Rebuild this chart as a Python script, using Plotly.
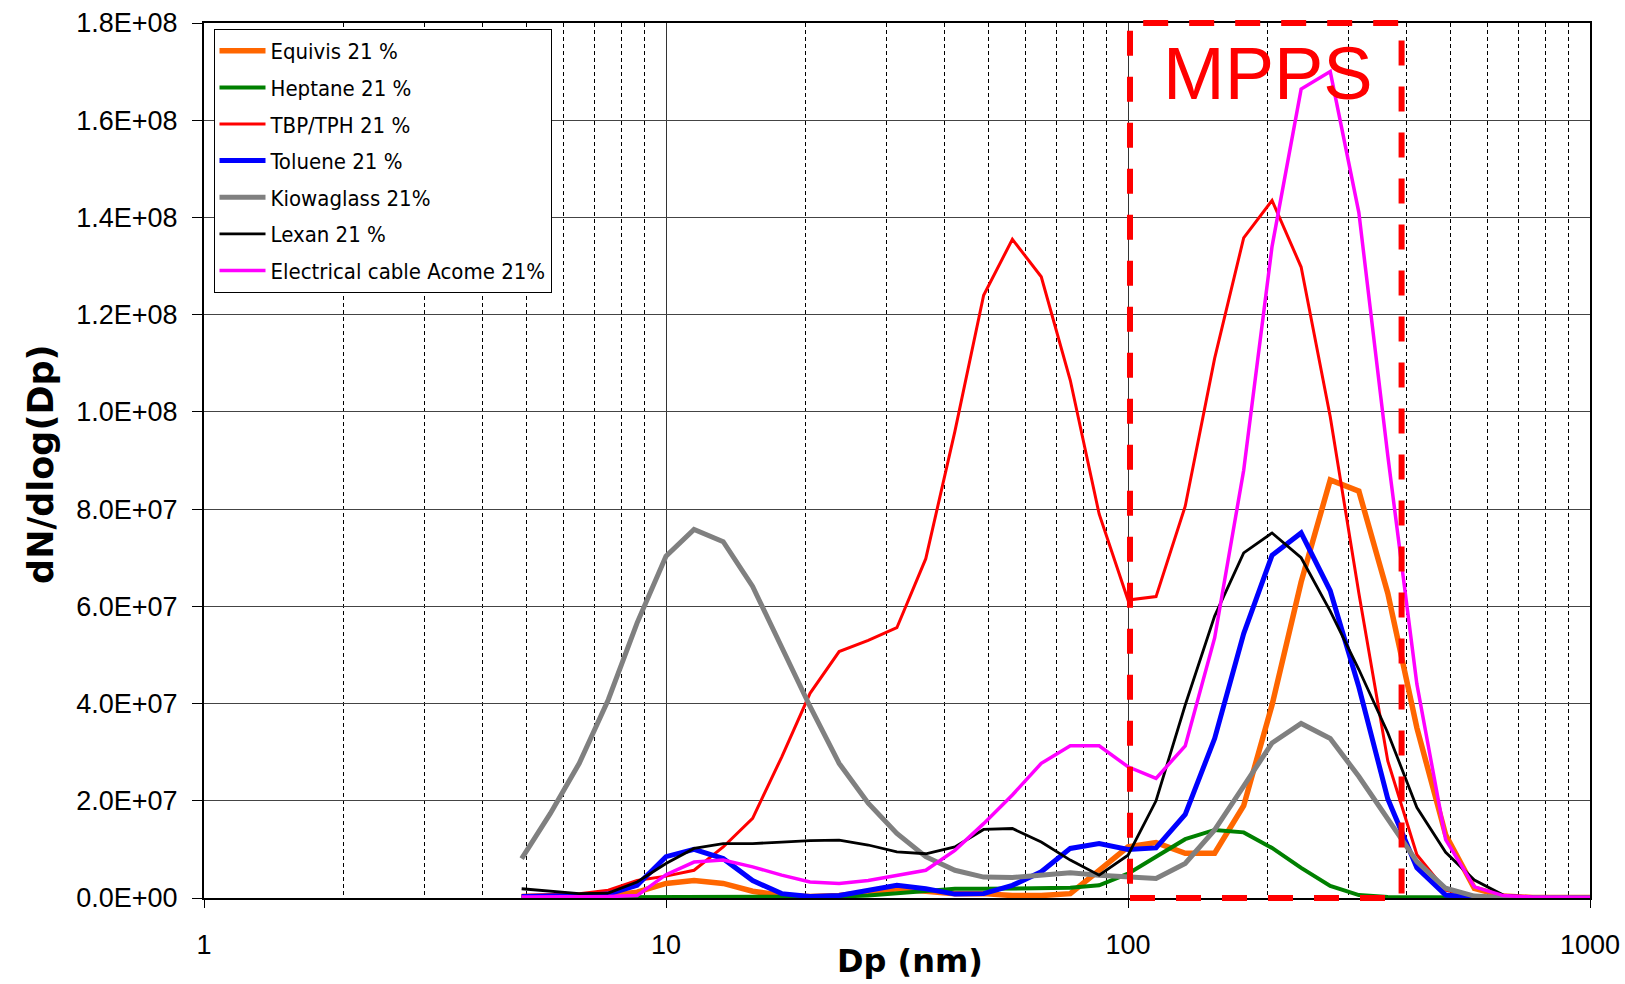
import math
import plotly.graph_objects as go

# Particle diameter channels (nm)
dp_nm = [4.87, 5.62, 6.49, 7.50, 8.66, 10.0, 11.5, 13.3, 15.4, 17.8,
         20.5, 23.7, 27.4, 31.6, 36.5, 42.2, 48.7, 56.2, 64.9, 75.0,
         86.6, 100, 115, 133, 154, 178, 205, 237, 274, 316,
         365, 422, 487, 562, 649, 750, 866, 1000]

# dN/dlog(Dp) values, in millions
equivis_M = [0.3, 0.3, 0.3, 0.5, 1.2, 3.0, 3.6, 3.0, 1.4, 0.5,
             0.3, 0.5, 1.2, 1.9, 1.4, 0.9, 0.9, 0.5, 0.5, 0.9,
             5.7, 10.5, 11.4, 9.2, 9.2, 19.0, 39.7, 65.0, 86.0, 83.7,
             62.7, 35.0, 13.0, 2.0, 0.4, 0.1, 0.1, 0.1]
heptane_M = [0.1, 0.1, 0.1, 0.1, 0.1, 0.2, 0.2, 0.2, 0.2, 0.2,
             0.3, 0.3, 0.5, 0.9, 1.4, 1.9, 1.9, 1.9, 1.9, 2.1,
             2.6, 5.0, 8.5, 12.1, 14.0, 13.5, 10.3, 6.2, 2.5, 0.6,
             0.2, 0.1, 0.1, 0.1, 0.1, 0.0, 0.0, 0.0]
tbp_M = [0.5, 0.7, 0.9, 1.6, 3.6, 4.5, 5.7, 10.5, 16.4, 29.0,
         42.1, 50.7, 53.0, 55.6, 69.8, 96.0, 124.0, 135.5, 127.8, 106.5,
         79.0, 61.3, 62.0, 80.6, 111.0, 135.8, 143.5, 129.8, 99.0, 62.7,
         28.2, 8.9, 1.6, 0.3, 0.1, 0.1, 0.05, 0.0]
toluene_M = [0.3, 0.3, 0.5, 0.8, 2.6, 8.5, 10.0, 8.1, 3.6, 0.9,
             0.3, 0.5, 1.6, 2.6, 1.9, 0.8, 0.9, 2.6, 5.4, 10.2,
             11.2, 10.0, 10.3, 17.2, 32.8, 54.4, 70.5, 75.1, 63.2, 43.4,
             20.4, 6.2, 0.6, 0.1, 0.0, 0.0, 0.0, 0.0]
kiowaglass_M = [8.1, 17.4, 27.7, 40.8, 56.6, 70.3, 75.8, 73.3, 64.1, 51.5,
                39.4, 27.7, 19.5, 13.3, 8.5, 5.7, 4.3, 4.2, 4.7, 5.2,
                4.7, 4.3, 4.0, 7.1, 14.0, 23.0, 31.9, 35.9, 32.8, 25.0,
                16.3, 7.5, 2.0, 0.4, 0.1, 0.05, 0.0, 0.0]
lexan_M = [1.9, 1.4, 0.9, 1.0, 3.3, 7.1, 10.2, 11.2, 11.2, 11.5,
           11.8, 11.9, 10.9, 9.5, 9.1, 10.5, 14.1, 14.3, 11.5, 7.8,
           4.7, 8.8, 20.0, 39.7, 58.0, 71.0, 75.1, 70.0, 59.0, 47.0,
           34.0, 18.6, 9.4, 3.7, 0.6, 0.2, 0.1, 0.0]
acome_M = [0.2, 0.2, 0.3, 0.3, 0.5, 4.8, 7.4, 7.8, 6.4, 4.7,
           3.3, 3.0, 3.6, 4.7, 5.7, 9.8, 15.3, 21.2, 27.7, 31.3,
           31.3, 27.0, 24.6, 31.3, 53.5, 88.0, 134.0, 166.4, 170.0, 141.0,
           91.0, 44.0, 12.0, 2.3, 0.5, 0.2, 0.1, 0.1]

series_names = ["Equivis 21 %", "Heptane 21 %", "TBP/TPH 21 %", "Toluene 21 %",
                "Kiowaglass 21%", "Lexan 21 %", "Electrical cable Acome 21%"]
series_values = [equivis_M, heptane_M, tbp_M, toluene_M, kiowaglass_M, lexan_M, acome_M]
series_colors = ["#FF6600", "#008000", "#FF0000", "#0000FF", "#808080", "#000000", "#FF00FF"]
series_widths = [5.5, 4, 3, 5, 5, 2.8, 3.5]

y_tickvals = [0, 2e7, 4e7, 6e7, 8e7, 1e8, 1.2e8, 1.4e8, 1.6e8, 1.8e8]
y_ticktext = ["0.0E+00", "2.0E+07", "4.0E+07", "6.0E+07", "8.0E+07",
              "1.0E+08", "1.2E+08", "1.4E+08", "1.6E+08", "1.8E+08"]
x_tickvals = [1, 10, 100, 1000]
x_ticktext = ["1", "10", "100", "1000"]

mpps_range_nm = [101, 391]

fig = go.Figure()
for i, (name, vals, color, w) in enumerate(zip(series_names, series_values, series_colors, series_widths)):
    fig.add_trace(go.Scatter(
        x=dp_nm, y=[v * 1e6 for v in vals], mode="lines", name=name,
        legendgroup="g%d" % i,
        line=dict(color=color, width=w),
    ))

x0p = math.log10(mpps_range_nm[0]) / 3.0
x1p = math.log10(mpps_range_nm[1]) / 3.0
fig.add_shape(type="rect", xref="paper", yref="paper", x0=x0p, x1=x1p, y0=0, y1=1,
              line=dict(color="#FF0000", width=6, dash="25px,21px"), layer="above")
fig.add_annotation(text="MPPS", xref="paper", yref="paper", x=0.768, y=0.942,
                   xanchor="center", yanchor="middle", showarrow=False,
                   font=dict(family="Liberation Sans, Arial", size=74, color="#FF0000"))

fig.add_annotation(text="<b>dN/dlog(Dp)</b>", xref="paper", yref="paper",
                   x=(41 - 204) / 1386, y=0.495, textangle=-90, showarrow=False,
                   xanchor="center", yanchor="middle",
                   font=dict(family="DejaVu Sans", size=35, color="black"))
fig.add_annotation(text="<b>Dp (nm)</b>", xref="paper", yref="paper",
                   x=(910 - 204) / 1386, y=-(961 - 898) / 875, showarrow=False,
                   xanchor="center", yanchor="middle",
                   font=dict(family="DejaVu Sans", size=32, color="black"))

tick_font = dict(family="Liberation Sans, Arial", size=27, color="black")

fig.update_xaxes(
    type="log", range=[0, 3], tickvals=x_tickvals, ticktext=x_ticktext,
    showline=True, linecolor="black", linewidth=2, mirror=True,
    ticks="outside", ticklen=8, tickcolor="black", tickwidth=1,
    ticklabelstandoff=14, automargin=False,
    showgrid=True, gridcolor="#333333", gridwidth=1,
    minor=dict(dtick="D1", showgrid=True, gridcolor="#000000", gridwidth=1,
               griddash="4px,3px", ticks=""),
    tickfont=tick_font, zeroline=False,
)
fig.update_yaxes(
    range=[0, 1.8e8], tickvals=y_tickvals, ticktext=y_ticktext,
    showline=True, linecolor="black", linewidth=2, mirror=True,
    ticks="outside", ticklen=10, tickcolor="black", tickwidth=1,
    ticklabelstandoff=9, automargin=False,
    showgrid=True, gridcolor="#444444", gridwidth=1,
    tickfont=tick_font, zeroline=False,
)

fig.update_layout(
    width=1625, height=984,
    margin=dict(l=204, r=35, t=23, b=86, pad=0, autoexpand=False),
    paper_bgcolor="white", plot_bgcolor="white",
    showlegend=True,
    legend=dict(x=(213.5 - 204) / 1386, y=1 - (29 - 23) / 875, xanchor="left", yanchor="top",
                bgcolor="white", bordercolor="black", borderwidth=1,
                font=dict(family="DejaVu Sans Condensed, DejaVu Sans", size=22, color="black"),
                tracegroupgap=5, itemwidth=46),
)

fig.write_html("out.html")
